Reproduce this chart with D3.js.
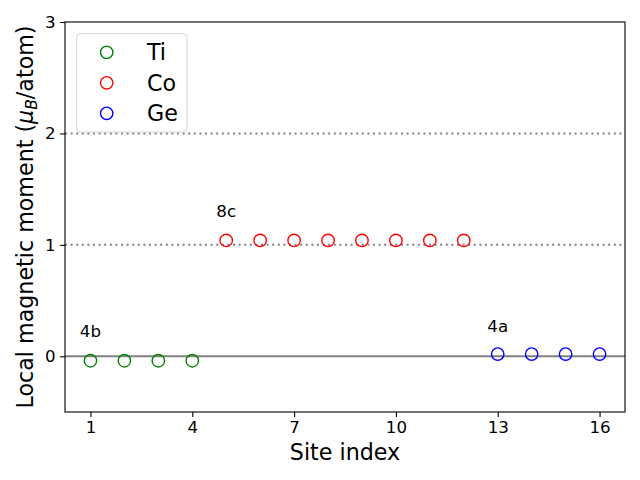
<!DOCTYPE html>
<html>
<head>
<meta charset="utf-8">
<script src="https://cdn.jsdelivr.net/npm/d3@7"></script>
<style>
    body { margin: 0; background: #fff; }
    svg { display: block; font-family: 'DejaVu Sans', sans-serif; }
</style>
</head>
<body>
<div id="chart"></div>
<script>
// site indices and local moments
const tiSites = [1, 2, 3, 4];
const tiMoments = [-0.04, -0.04, -0.04, -0.04];
const coSites = [5, 6, 7, 8, 9, 10, 11, 12];
const coMoments = [1.04, 1.04, 1.04, 1.04, 1.04, 1.04, 1.04, 1.04];
const geSites = [13, 14, 15, 16];
const geMoments = [0.02, 0.02, 0.02, 0.02];

const seriesNames = ['Ti', 'Co', 'Ge'];
const seriesColors = ['green', 'red', 'blue'];

// Wyckoff labels: text, site, value at baseline
const wyckoffText = ['4b', '8c', '4a'];
const wyckoffSite = [1, 5, 13];
const wyckoffValue = [0.17, 1.25, 0.22];

const refLines = [1, 2];
const xTicks = [1, 4, 7, 10, 13, 16];
const yTicks = [0, 1, 2, 3];

const width = 640;
const height = 480;
const margin = { top: 22, right: 15, bottom: 68, left: 65 };

const svg = d3.select('#chart')
    .append('svg')
    .attr('width', width)
    .attr('height', height);

const xScale = d3.scaleLinear()
    .domain([0.25, 16.75])
    .range([margin.left, width - margin.right]);

const yScale = d3.scaleLinear()
    .domain([-0.5, 3])
    .range([height - margin.bottom, margin.top]);

// reference lines
svg.append('g')
    .selectAll('line')
    .data(refLines)
    .join('line')
    .attr('x1', margin.left)
    .attr('x2', width - margin.right)
    .attr('y1', (d) => yScale(d))
    .attr('y2', (d) => yScale(d))
    .style('stroke', '#808080')
    .style('stroke-width', 2)
    .style('stroke-dasharray', '2,3.6');

svg.append('line')
    .attr('x1', margin.left)
    .attr('x2', width - margin.right)
    .attr('y1', yScale(0))
    .attr('y2', yScale(0))
    .style('stroke', '#808080')
    .style('stroke-width', 2);

// markers
const series = [
    { sites: tiSites, values: tiMoments },
    { sites: coSites, values: coMoments },
    { sites: geSites, values: geMoments },
];

series.forEach((s, i) => {
    svg.append('g')
        .selectAll('circle')
        .data(s.sites.map((site, j) => ({ site, value: s.values[j] })))
        .join('circle')
        .attr('cx', (d) => xScale(d.site))
        .attr('cy', (d) => yScale(d.value))
        .attr('r', 6.2)
        .style('fill', 'none')
        .style('stroke', seriesColors[i])
        .style('stroke-width', 1.4);
});

// wyckoff labels
svg.append('g')
    .selectAll('text')
    .data(wyckoffText)
    .join('text')
    .attr('x', (d, i) => xScale(wyckoffSite[i]))
    .attr('y', (d, i) => yScale(wyckoffValue[i]))
    .attr('text-anchor', 'middle')
    .style('font-size', '16.67px')
    .text((d) => d);

// axes
const xAxis = svg.append('g')
    .attr('transform', `translate(0, ${height - margin.bottom})`)
    .call(d3.axisBottom(xScale).tickValues(xTicks).tickFormat(d3.format('d')).tickSize(4.9).tickPadding(4.5));

const yAxis = svg.append('g')
    .attr('transform', `translate(${margin.left}, 0)`)
    .call(d3.axisLeft(yScale).tickValues(yTicks).tickFormat(d3.format('d')).tickSize(4.9).tickPadding(4.5));

[xAxis, yAxis].forEach((ax) => {
    ax.attr('font-size', null).attr('font-family', null);
    ax.selectAll('text')
        .style('font-family', "'DejaVu Sans', sans-serif")
        .style('font-size', '16.67px')
        .style('fill', '#000');
    ax.selectAll('line').style('stroke', '#000').style('stroke-width', 1.1);
    ax.select('.domain').remove();
});

// frame
svg.append('rect')
    .attr('x', margin.left)
    .attr('y', margin.top)
    .attr('width', width - margin.left - margin.right)
    .attr('height', height - margin.top - margin.bottom)
    .style('fill', 'none')
    .style('stroke', '#000')
    .style('stroke-width', 1.1);

// axis labels
svg.append('text')
    .attr('x', (margin.left + width - margin.right) / 2)
    .attr('y', 460)
    .attr('text-anchor', 'middle')
    .style('font-size', '22.2px')
    .text('Site index');

const yLabel = svg.append('text')
    .attr('transform', `translate(33, ${(margin.top + height - margin.bottom) / 2}) rotate(-90)`)
    .attr('text-anchor', 'middle')
    .style('font-size', '22.2px');
yLabel.append('tspan').text('Local magnetic moment (');
yLabel.append('tspan').style('font-style', 'italic').text('μ');
yLabel.append('tspan').style('font-style', 'italic').style('font-size', '15.5px').attr('dy', 4).text('B');
yLabel.append('tspan').attr('dy', -4).text('/atom)');

// legend
const legend = svg.append('g');
legend.append('rect')
    .attr('x', 76.5)
    .attr('y', 33.5)
    .attr('width', 110.5)
    .attr('height', 98.5)
    .attr('rx', 4)
    .style('fill', 'rgba(255,255,255,0.8)')
    .style('stroke', '#d6d6d6')
    .style('stroke-width', 1);

seriesNames.forEach((name, i) => {
    const cy = 52.3 + i * 30.5;
    legend.append('circle')
        .attr('cx', 106.7)
        .attr('cy', cy)
        .attr('r', 6.2)
        .style('fill', 'none')
        .style('stroke', seriesColors[i])
        .style('stroke-width', 1.4);
    legend.append('text')
        .attr('x', 147)
        .attr('y', cy + 8)
        .style('font-size', '22.2px')
        .text(name);
});
</script>
</body>
</html>
